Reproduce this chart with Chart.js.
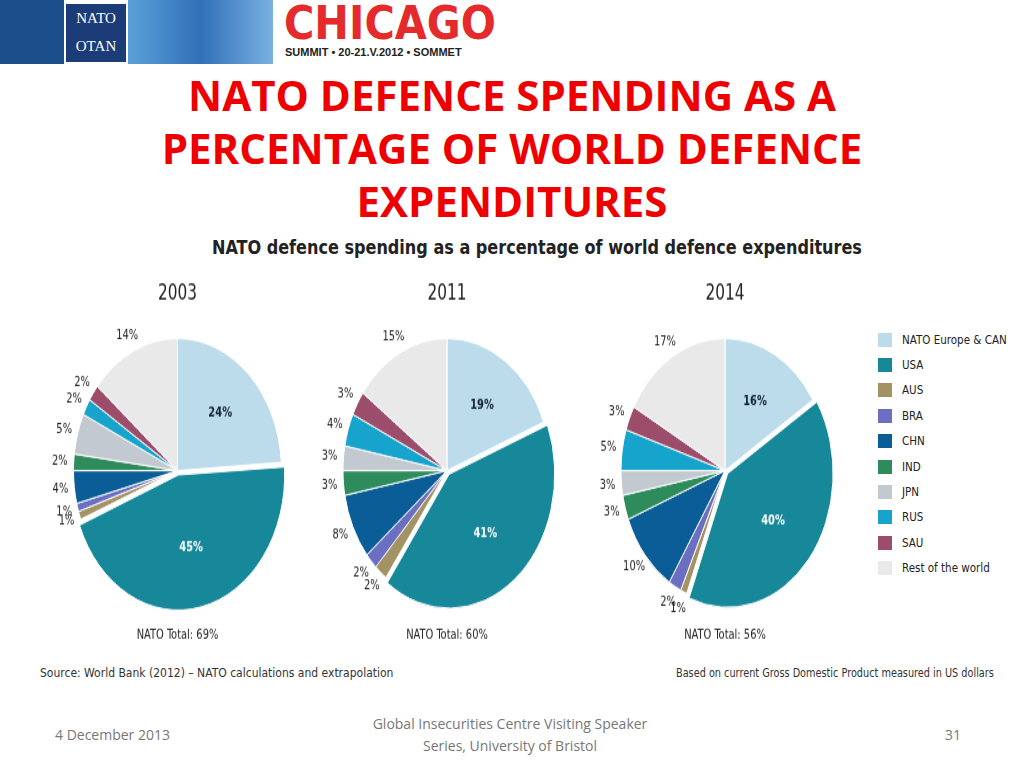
<!DOCTYPE html>
<html><head><meta charset="utf-8">
<script src="https://cdn.jsdelivr.net/npm/chart.js@4"></script>
<style>
body{margin:0;width:1024px;height:768px;background:#fff;position:relative;overflow:hidden;font-family:"Open Sans","DejaVu Sans",sans-serif}
.abs{position:absolute}
#title{left:60px;top:68px;width:904px;text-align:center;color:#ee0000;font-weight:bold;font-size:42px;line-height:53px}
#sub{left:212px;top:236px;font:bold 19px "DejaVu Sans Condensed","DejaVu Sans",sans-serif;color:#222;transform:scaleX(0.94);transform-origin:left}
.note{font:12px "DejaVu Sans Condensed","DejaVu Sans",sans-serif;color:#333;white-space:nowrap;transform-origin:left}
.foot{color:#777;font-size:14px}
#legend div{height:25.4px;display:flex;align-items:center;font:11.5px "DejaVu Sans Condensed","DejaVu Sans",sans-serif;color:#222}
#legend span{display:inline-block;width:14px;height:14px;margin-right:10px}
.pie{position:absolute;top:273px;height:300px;transform:scaleY(1.27);transform-origin:top}
</style></head><body>
<div class="abs" style="left:0;top:0;width:64px;height:64px;background:#1c4e8c"></div>
<div class="abs" style="left:66px;top:4px;width:60px;height:58px;background:#1c3c78;color:#fff;font:15px 'Liberation Serif';text-align:center;line-height:28px">NATO<br>OTAN</div>
<div class="abs" style="left:128px;top:0;width:145px;height:64px;background:linear-gradient(90deg,#5aa0d8,#3070b8,#7ab0e0)"></div>
<div class="abs" style="left:284px;top:-4px;color:#e42a2a;font:bold 46px 'DejaVu Sans Condensed','Liberation Sans'">CHICAGO</div>
<div class="abs" style="left:285px;top:46px;color:#222;font:bold 11px 'Liberation Sans'">SUMMIT • 20-21.V.2012 • SOMMET</div>
<div id="title" class="abs">NATO DEFENCE SPENDING AS A PERCENTAGE OF WORLD DEFENCE EXPENDITURES</div>
<div id="sub" class="abs">NATO defence spending as a percentage of world defence expenditures</div>
<div class="pie" style="left:40px;width:275px"><canvas id="c2003"></canvas></div>
<div class="pie" style="left:312px;width:270px"><canvas id="c2011"></canvas></div>
<div class="pie" style="left:585px;width:280px"><canvas id="c2014"></canvas></div>
<div id="legend" class="abs" style="left:878px;top:327px"></div>
<div class="abs note" style="left:40px;top:666px">Source: World Bank (2012) – NATO calculations and extrapolation</div>
<div class="abs note" style="left:676px;top:666px;transform:scaleX(0.9)">Based on current Gross Domestic Product measured in US dollars</div>
<div class="abs foot" style="left:55px;top:725px">4 December 2013</div>
<div class="abs foot" style="left:350px;top:713px;width:320px;text-align:center;line-height:22px">Global Insecurities Centre Visiting Speaker Series, University of Bristol</div>
<div class="abs foot" style="left:945px;top:725px">31</div>
<script>
var categories = ["NATO Europe & CAN","USA","AUS","BRA","CHN","IND","JPN","RUS","SAU","Rest of the world"];
var colors = ["#bcdbeb","#17879a","#a39262","#6b6fc2","#0b5d98","#2e8c5c","#c2c9d0","#16a3cc","#9c4d6c","#e9e9e9"];
var years = ["2003","2011","2014"];
var natoTotals = ["69%","60%","56%"];
var values2003 = [24,45,1,1,4,2,5,2,2,14];
var values2011 = [19,41,2,2,8,3,3,4,3,15];
var values2014 = [16,40,1,2,10,3,3,5,3,17];
var series = [values2003, values2011, values2014];
var ids = ["c2003","c2011","c2014"];
var fontFam = "'DejaVu Sans Condensed','DejaVu Sans'";

var lg = document.getElementById("legend");
categories.forEach(function(c, i) {
    var d = document.createElement("div");
    d.innerHTML = '<span style="background:' + colors[i] + '"></span>' + c;
    lg.appendChild(d);
});

var labelPlugin = {
    id: "pctLabels",
    afterDatasetsDraw: function(chart) {
        var ctx = chart.ctx;
        var meta = chart.getDatasetMeta(0);
        var data = chart.data.datasets[0].data;
        ctx.save();
        ctx.textAlign = "center";
        ctx.textBaseline = "middle";
        meta.data.forEach(function(arc, i) {
            var mid = (arc.startAngle + arc.endAngle) / 2;
            var big = i < 2;
            var r = big ? arc.outerRadius * 0.6 : arc.outerRadius + 14;
            var x = arc.x + Math.cos(mid) * r;
            var y = arc.y + Math.sin(mid) * r;
            ctx.font = (big ? "bold " : "") + "11px " + fontFam;
            ctx.fillStyle = big ? (i == 1 ? "#fff" : "#123") : "#222";
            ctx.fillText(data[i] + "%", x, y);
        });
        ctx.restore();
    }
};

series.forEach(function(vals, k) {
    var ctx = document.getElementById(ids[k]).getContext("2d");
    new Chart(ctx, {
        type: "pie",
        data: {
            labels: categories,
            datasets: [{
                data: vals,
                backgroundColor: colors,
                borderColor: "#fff",
                borderWidth: 1,
                offset: vals.map(function(v, i) { return i == 1 ? 14 : 0; })
            }]
        },
        options: {
            responsive: true,
            maintainAspectRatio: false,
            animation: false,
            radius: 104,
            layout: { padding: { left: 10, right: 10, top: 0, bottom: 0 } },
            plugins: {
                legend: { display: false },
                tooltip: { enabled: false },
                title: { display: true, text: years[k], color: "#222", font: { size: 17, weight: "normal", family: fontFam }, padding: { top: 6, bottom: 8 } },
                subtitle: { display: true, position: "bottom", text: "NATO Total: " + natoTotals[k], color: "#222", font: { size: 11, family: fontFam }, padding: { top: 2, bottom: 8 } }
            }
        },
        plugins: [labelPlugin]
    });
});
</script>
</body></html>
